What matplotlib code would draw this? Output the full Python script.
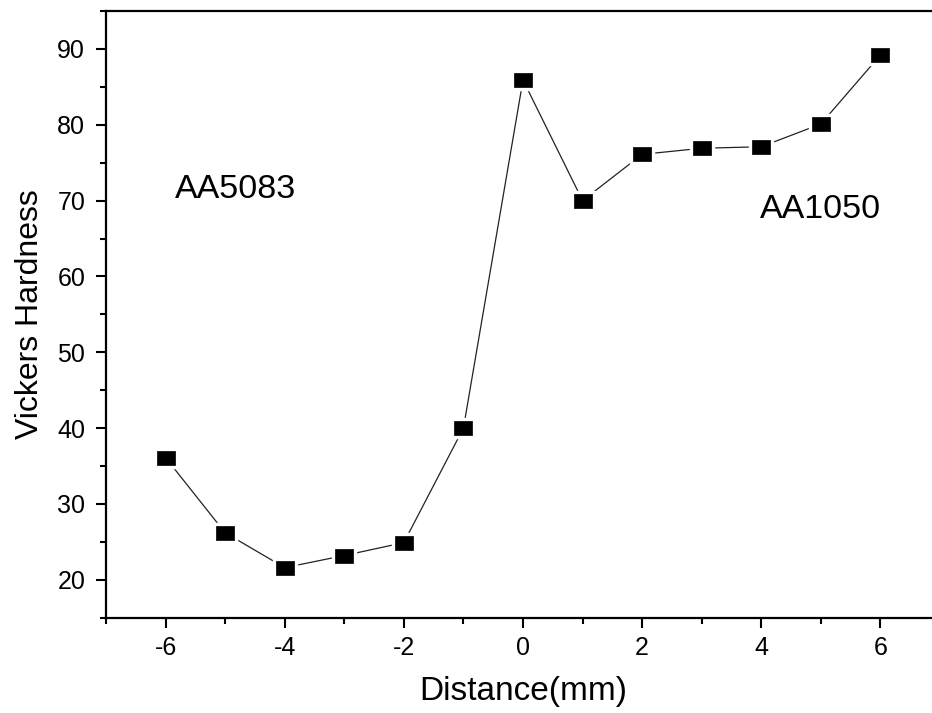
import matplotlib
matplotlib.use("Agg")
import matplotlib.pyplot as plt
from matplotlib.ticker import MultipleLocator

distance = [-6, -5, -4, -3, -2, -1, 0, 1, 2, 3, 4, 5, 6]
hardness = [36.1, 26.2, 21.6, 23.2, 24.9, 40.0, 85.9, 70.0, 76.1, 76.9, 77.1, 80.1, 89.2]
xticks = [-6, -4, -2, 0, 2, 4, 6]
yticks = [20, 30, 40, 50, 60, 70, 80, 90]

plt.rcParams['font.family'] = ['Liberation Sans', 'DejaVu Sans']
plt.rcParams['axes.unicode_minus'] = False

W, H = 932, 713
fig = plt.figure(figsize=(W / 100, H / 100), dpi=100)
left, right, top, bottom = 106, 940, 11, 617.7
ax = fig.add_axes([left / W, 1 - bottom / H, (right - left) / W, (bottom - top) / H])

rect = [(-1, -0.81), (1, -0.81), (1, 0.81), (-1, 0.81), (-1, -0.81)]
ax.plot(distance, hardness, color='#222222', lw=0.9, zorder=2)
ax.plot(distance, hardness, ls='none', marker=rect, ms=17, mfc='white', mec='white', zorder=3)
ax.plot(distance, hardness, ls='none', marker=rect, ms=12.3, mfc='black', mec='black', mew=0.5, zorder=4)

ax.set_xlim(-7, 7)
ax.set_ylim(15, 95)
ax.set_xticks(xticks)
ax.set_yticks(yticks)
ax.xaxis.set_minor_locator(MultipleLocator(1))
ax.yaxis.set_minor_locator(MultipleLocator(5))
ax.tick_params(which='major', direction='out', length=7, width=1.5, labelsize=18, pad=6)
ax.tick_params(which='minor', direction='out', length=4, width=1.5)
ax.tick_params(axis='y', which='major', pad=8)
for s in ax.spines.values():
    s.set_linewidth(1.6)

ax.set_xlabel('Distance(mm)', fontsize=24, labelpad=12)
ax.set_ylabel('Vickers Hardness', fontsize=23, labelpad=9)

ax.text(-5.85, 70.4, 'AA5083', fontsize=24.5, ha='left', va='baseline')
ax.text(3.98, 67.7, 'AA1050', fontsize=24.5, ha='left', va='baseline')

fig.savefig('out.png', dpi=100)
